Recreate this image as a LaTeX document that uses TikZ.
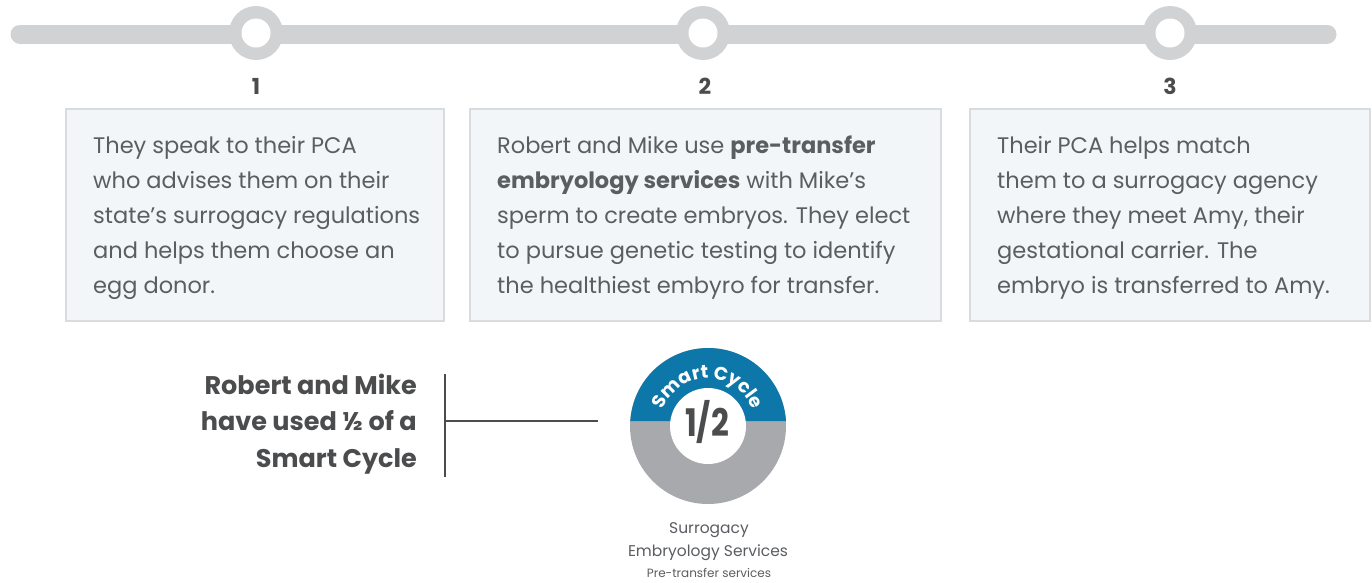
\documentclass[tikz,border=0pt]{standalone}
\usepackage{fontspec}
\setmainfont{Poppins}
\usetikzlibrary{decorations.text}
\definecolor{txt}{HTML}{5A5D61}
\definecolor{boxfill}{HTML}{F2F6F9}
\definecolor{boxline}{HTML}{D9DCDF}
\definecolor{bar}{HTML}{D1D2D4}
\definecolor{scblue}{HTML}{0E77A9}
\definecolor{scgray}{HTML}{A7A9AC}
\definecolor{dark}{HTML}{4B4C4E}
\tikzset{
  card/.style={draw=boxline, fill=boxfill, line width=1.2pt},
  bodytext/.style={anchor=base west, inner sep=0pt, align=left, text=txt,
    font=\fontsize{22.5}{35}\selectfont},
  stepnum/.style={inner sep=0pt, text=dark, font=\bfseries\fontsize{22}{22}\selectfont},
  milestone/.style={circle, fill=bar, minimum size=54pt, inner sep=0pt},
  hole/.style={circle, fill=white, minimum size=29pt, inner sep=0pt},
  leftlabel/.style={anchor=east, inner sep=0pt, align=right, text=dark,
    font=\bfseries\fontsize{25.5}{36.5}\selectfont},
  caption/.style={inner sep=0pt, text=txt, align=center},
  connector/.style={draw=dark, line width=1.3pt}
}
\begin{document}
\begin{tikzpicture}[x=1pt,y=-1pt]
\useasboundingbox[fill=white] (0,0) rectangle (1372,582);
% timeline
\coordinate (barL) at (20,34);
\coordinate (barR) at (1327,34);
\draw[bar, line width=19pt, line cap=round] (barL) -- (barR);
\foreach \x/\n in {256/m1,703/m2,1170/m3}{
  \node[milestone] (\n) at (\x,33) {};
  \node[hole] at (\n) {};
}
\node[stepnum] (n1) at (256,86) {1};
\node[stepnum] (n2) at (705,86) {2};
\node[stepnum] (n3) at (1170,86) {3};
% cards
\path[card] (66,109) rectangle (444,321);
\path[card] (470,109) rectangle (941,321);
\path[card] (970,109) rectangle (1370,321);
\node[bodytext] (t1) at (93,293) {They speak to their PCA\\who advises them on their\\state’s surrogacy regulations\\and helps them choose an\\egg donor.};
\node[bodytext] (t2) at (497,293) {Robert and Mike use \textbf{pre-transfer}\\\textbf{embryology services} with Mike’s\\sperm to create embryos. They elect\\to pursue genetic testing to identify\\the healthiest embyro for transfer.};
\node[bodytext] (t3) at (997,293) {Their PCA helps match\\them to a surrogacy agency\\where they meet Amy, their\\gestational carrier. The\\embryo is transferred to Amy.};
% smart cycle badge
\coordinate (sc) at (708,426);
\begin{scope}[shift={(708,426)}, y=1pt]
  \fill[scgray] (0,0) circle[radius=78];
  \fill[scblue] (78,5) arc[start angle=3.7, end angle=176.3, radius=78] -- cycle;
  \fill[white] (0,0) circle[radius=38];
  \path[decorate, decoration={text along path, text align=center,
      text={|\color{white}\bfseries\fontsize{18.5}{18.5}\selectfont|Smart Cycle}}]
      (170:47.5) arc[start angle=170, end angle=10, radius=47.5];
\end{scope}
\node[inner sep=0pt, text=dark, xscale=0.82, font=\bfseries\fontsize{38}{38}\selectfont] (half) at (707,422) {1/2};
% captions
\node[caption, font=\fontsize{15.5}{15.5}\selectfont] (c1) at (709,530) {Surrogacy};
\node[caption, font=\fontsize{15.5}{15.5}\selectfont] (c2) at (708,553) {Embryology Services};
\node[caption, font=\fontsize{12}{12}\selectfont] (c3) at (709,573) {Pre-transfer services};
% left label and bracket
\node[leftlabel] (lab) at (417,424) {Robert and Mike\\have used ½ of a\\Smart Cycle};
\coordinate (vt) at (445,374);
\coordinate (vb) at (445,477);
\coordinate (hl) at (445,421);
\coordinate (hr) at (598,421);
\draw[connector] (vt) -- (vb);
\draw[connector] (hl) -- (hr);
\end{tikzpicture}
\end{document}
